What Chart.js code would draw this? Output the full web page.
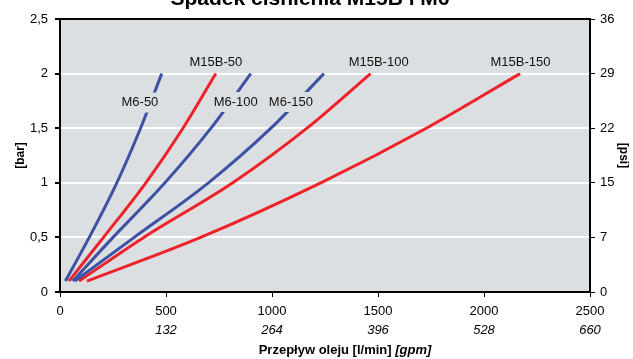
<!DOCTYPE html>
<html>
<head>
<meta charset="utf-8">
<script src="https://cdn.jsdelivr.net/npm/chart.js@4.4.1/dist/chart.umd.min.js"></script>
<style>
  body { margin: 0; background: #fff; }
</style>
</head>
<body>
<canvas id="chart" width="633" height="359"></canvas>
<script>
// pressure levels [bar] at which the flow was read
var pressure = [0.1, 0.5, 1.0, 1.5, 2.0];
// flow [l/min] for each curve at those pressures
var flowM6_50 = [25, 138, 268, 380, 480];
var flowM15B_50 = [42, 205, 405, 580, 735];
var flowM6_100 = [60, 250, 495, 712, 900];
var flowM6_150 = [70, 350, 700, 995, 1245];
var flowM15B_100 = [90, 395, 815, 1165, 1465];
var flowM15B_150 = [127, 663, 1230, 1728, 2170];

var seriesNames = ["M6-50", "M15B-50", "M6-100", "M6-150", "M15B-100", "M15B-150"];
var seriesFlows = [flowM6_50, flowM15B_50, flowM6_100, flowM6_150, flowM15B_100, flowM15B_150];
var seriesColors = ["#3d52a3", "#ee2229", "#3d52a3", "#3d52a3", "#ee2229", "#ee2229"];

// where the curve names sit (data units)
var labelX = [377, 735, 829, 1089, 1503, 2172];
var labelY = [1.735, 2.1, 1.74, 1.74, 2.1, 2.1];

var xTicks = [0, 500, 1000, 1500, 2000, 2500];
var BG = "#dcdfe2";
var FAM = "'Liberation Sans', Arial, sans-serif";

function toPoints(flows) {
    return flows.map(function (q, i) { return { x: q, y: pressure[i] }; });
}

var datasets = seriesNames.map(function (name, i) {
    return {
        label: name,
        data: toPoints(seriesFlows[i]),
        borderColor: seriesColors[i],
        borderWidth: 3,
        pointRadius: 0,
        cubicInterpolationMode: "monotone",
        fill: false
    };
});

var frame = {
    id: "frame",
    beforeDraw: function (chart) {
        var a = chart.chartArea, ctx = chart.ctx;
        ctx.save();
        ctx.fillStyle = BG;
        ctx.fillRect(a.left, a.top, a.right - a.left, a.bottom - a.top);
        ctx.restore();
    },
    afterDatasetsDraw: function (chart) {
        var ctx = chart.ctx, xs = chart.scales.x, ys = chart.scales.y;
        ctx.save();
        ctx.font = "13px " + FAM;
        ctx.textAlign = "center";
        ctx.textBaseline = "middle";
        seriesNames.forEach(function (name, i) {
            var px = xs.getPixelForValue(labelX[i]);
            var py = ys.getPixelForValue(labelY[i]);
            var w = ctx.measureText(name).width;
            ctx.fillStyle = BG;
            ctx.fillRect(px - w / 2 - 2, py - 10, w + 4, 20);
            ctx.fillStyle = "#111";
            ctx.fillText(name, px, py);
        });
        ctx.restore();
    },
    afterDraw: function (chart) {
        var a = chart.chartArea, ctx = chart.ctx;
        ctx.save();
        // top border
        ctx.strokeStyle = "#000";
        ctx.lineWidth = 2;
        ctx.beginPath();
        ctx.moveTo(a.left - 1, a.top);
        ctx.lineTo(a.right + 1, a.top);
        ctx.stroke();
        // title, cut off at the top edge as in the original
        ctx.fillStyle = "#000";
        ctx.textAlign = "center";
        ctx.textBaseline = "alphabetic";
        ctx.font = "bold 21px " + FAM;
        ctx.fillText("Spadek ciśnienia M15B i M6", 310, 5);
        // x axis title, mixed styles
        var t1 = "Przepływ oleju [l/min] ";
        var t2 = "[gpm]";
        ctx.font = "bold 13px " + FAM;
        var w1 = ctx.measureText(t1).width;
        ctx.font = "italic bold 13px " + FAM;
        var w2 = ctx.measureText(t2).width;
        var x0 = 345 - (w1 + w2) / 2;
        ctx.textAlign = "left";
        ctx.textBaseline = "middle";
        ctx.font = "bold 13px " + FAM;
        ctx.fillText(t1, x0, 350);
        ctx.font = "italic bold 13px " + FAM;
        ctx.fillText(t2, x0 + w1, 350);
        ctx.restore();
    }
};

var tickFont = { family: FAM, size: 13 };

new Chart("chart", {
    type: "line",
    data: { datasets: datasets },
    plugins: [frame],
    options: {
        responsive: false,
        animation: false,
        layout: { padding: { top: 19, bottom: 19, left: 0, right: 0 } },
        plugins: {
            legend: { display: false },
            title: { display: false },
            tooltip: { enabled: false }
        },
        scales: {
            x: {
                type: "linear",
                position: "bottom",
                min: 0,
                max: 2500,
                afterBuildTicks: function (s) { s.ticks = xTicks.map(function (v) { return { value: v }; }); },
                afterFit: function (s) { s.height = 28; },
                grid: { drawOnChartArea: false, tickLength: 5, tickColor: "#000" },
                border: { color: "#000", width: 2 },
                ticks: {
                    color: "#000",
                    font: tickFont,
                    padding: 7,
                    maxRotation: 0,
                    callback: function (v) { return String(v); }
                }
            },
            x2: {
                type: "linear",
                position: "bottom",
                min: 0,
                max: 2500,
                afterBuildTicks: function (s) { s.ticks = xTicks.map(function (v) { return { value: v }; }); },
                afterFit: function (s) { s.height = 20; },
                grid: { display: false, drawTicks: false },
                border: { display: false },
                ticks: {
                    color: "#000",
                    font: { family: FAM, size: 13, style: "italic" },
                    padding: 3,
                    maxRotation: 0,
                    callback: function (v) { return v === 0 ? "" : String(Math.round(v * 0.264)); }
                }
            },
            y: {
                position: "left",
                min: 0,
                max: 2.5,
                afterFit: function (s) { s.width = 60; },
                grid: {
                    color: function (c) { return (c.tick && (c.tick.value === 0 || c.tick.value === 2.5)) ? "rgba(0,0,0,0)" : "#fff"; },
                    lineWidth: 2,
                    tickLength: 5,
                    tickColor: "#000"
                },
                border: { color: "#000", width: 2 },
                ticks: {
                    stepSize: 0.5,
                    color: "#000",
                    font: tickFont,
                    padding: 7,
                    callback: function (v) { return String(v).replace(".", ","); }
                },
                title: {
                    display: true,
                    text: "[bar]",
                    color: "#000",
                    font: { family: FAM, size: 12, weight: "bold" },
                    padding: { top: 13, bottom: 0 }
                }
            },
            y2: {
                position: "right",
                min: 0,
                max: 2.5,
                afterFit: function (s) { s.width = 43; },
                grid: { drawOnChartArea: false, tickLength: 5, tickColor: "#000" },
                border: { color: "#000", width: 2 },
                ticks: {
                    stepSize: 0.5,
                    color: "#000",
                    font: tickFont,
                    padding: 5,
                    callback: function (v) { return String(Math.round(v * 14.5)); }
                },
                title: {
                    display: true,
                    text: "[psi]",
                    color: "#000",
                    font: { family: FAM, size: 12, weight: "bold" },
                    padding: { top: 2, bottom: 0 }
                }
            }
        }
    }
});
</script>
</body>
</html>
